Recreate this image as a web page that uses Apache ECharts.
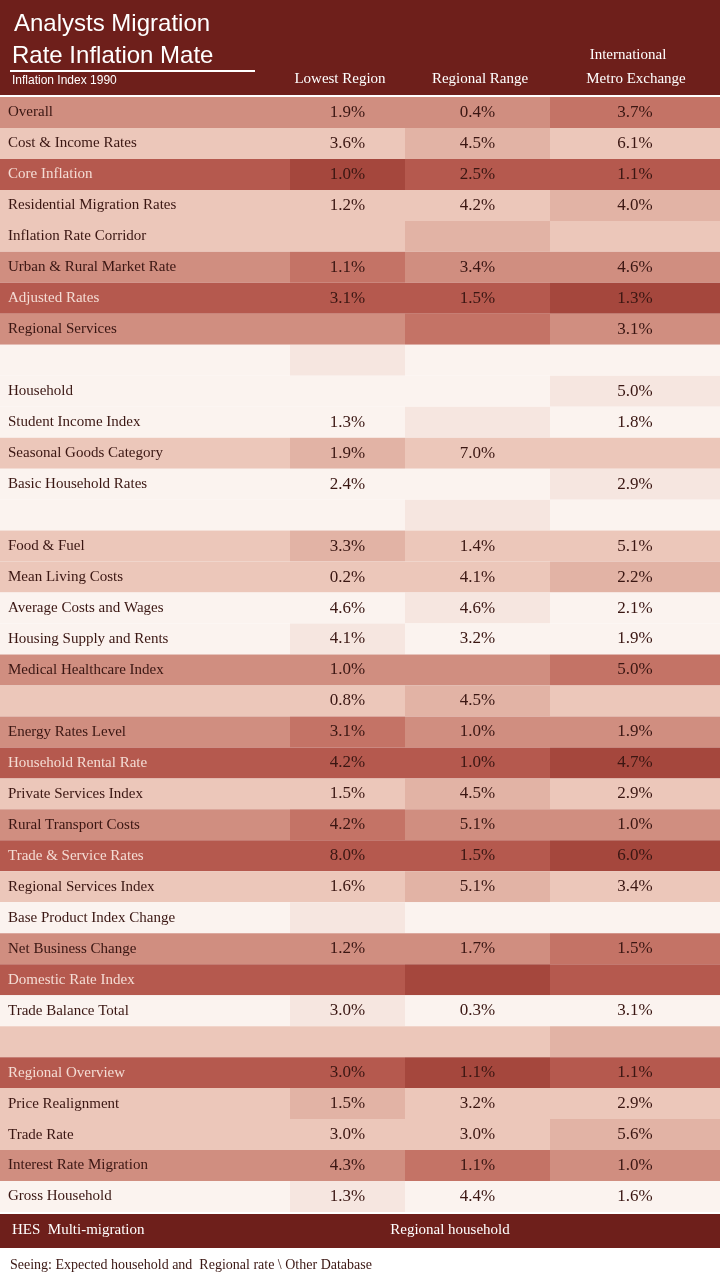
<!DOCTYPE html>
<html><head><meta charset="utf-8">
<script src="https://cdn.jsdelivr.net/npm/echarts@6/dist/echarts.min.js"></script>
<style>html,body{margin:0;padding:0;background:#fff}#c{width:720px;height:1280px}</style>
</head><body><div id="c"></div>
<script>
const columns = ["Category", "Lowest Region", "Regional Range", "Metro Exchange"];
const rowLabels = ["Overall","Cost & Income Rates","Core Inflation","Residential Migration Rates","Inflation Rate Corridor","Urban & Rural Market Rate","Adjusted Rates","Regional Services","","Household","Student Income Index","Seasonal Goods Category","Basic Household Rates","","Food & Fuel","Mean Living Costs","Average Costs and Wages","Housing Supply and Rents","Medical Healthcare Index","","Energy Rates Level","Household Rental Rate","Private Services Index","Rural Transport Costs","Trade & Service Rates","Regional Services Index","Base Product Index Change","Net Business Change","Domestic Rate Index","Trade Balance Total","","Regional Overview","Price Realignment","Trade Rate","Interest Rate Migration","Gross Household"];
const col1 = ["1.9%","3.6%","1.0%","1.2%","","1.1%","3.1%","","","","1.3%","1.9%","2.4%","","3.3%","0.2%","4.6%","4.1%","1.0%","0.8%","3.1%","4.2%","1.5%","4.2%","8.0%","1.6%","","1.2%","","3.0%","","3.0%","1.5%","3.0%","4.3%","1.3%"];
const col2 = ["0.4%","4.5%","2.5%","4.2%","","3.4%","1.5%","","","","","7.0%","","","1.4%","4.1%","4.6%","3.2%","","4.5%","1.0%","1.0%","4.5%","5.1%","1.5%","5.1%","","1.7%","","0.3%","","1.1%","3.2%","3.0%","1.1%","4.4%"];
const col3 = ["3.7%","6.1%","1.1%","4.0%","","4.6%","1.3%","3.1%","","5.0%","1.8%","","2.9%","","5.1%","2.2%","2.1%","1.9%","5.0%","","1.9%","4.7%","2.9%","1.0%","6.0%","3.4%","","1.5%","","3.1%","","1.1%","2.9%","5.6%","1.0%","1.6%"];
const level = [2,1,3,1,1,2,3,2,0,0,0,1,0,0,1,1,0,0,2,1,2,3,1,2,3,1,0,2,3,0,1,3,1,1,2,0];

const palette = ["#fbf3ef","#ecc7ba","#d08e80","#b5594e"];
const shade = ["#f6e6e0","#e2b3a5","#c47366","#a5473d"];
const data = [];
rowLabels.forEach((r, i) => {
  const vals = [r, col1[i], col2[i], col3[i]];
  vals.forEach((v, j) => {
    const lv = level[i];
    const c = (j === 0) ? palette[lv] : ((i + j) % 3 === 0 ? shade[lv] : palette[lv]);
    data.push([j, i, v, c, lv]);
  });
});

const chart = echarts.init(document.getElementById('c'));
chart.setOption({
  backgroundColor: '#fff',
  animation: false,
  grid: { left: 0, right: 0, top: 97, bottom: 68 },
  xAxis: { type: 'category', data: columns, show: false },
  yAxis: { type: 'category', data: rowLabels.map((r,i)=>i+''), inverse: true, show: false },
  series: [{
    type: 'custom',
    data: data,
    encode: { x: 0, y: 1 },
    renderItem: function (params, api) {
      const j = api.value(0);
      const p = api.coord([j, api.value(1)]);
      const s = api.size([1, 1]);
      const colW = [290, 115, 145, 170];
      const colX = [0, 290, 405, 550];
      const x = colX[j], w = colW[j];
      const d = data[params.dataIndex];
      const lv = d[4];
      const txtColor = (lv === 3 && j === 0) ? '#f4dcd4' : '#3a1612';
      return {
        type: 'group',
        children: [
          { type: 'rect', shape: { x: x, y: p[1] - s[1] / 2, width: w, height: s[1] }, style: { fill: d[3] } },
          { type: 'text', style: {
              text: d[2], x: j === 0 ? 8 : x + w / 2, y: p[1],
              align: j === 0 ? 'left' : 'center', verticalAlign: 'middle',
              fill: txtColor,
              font: (j === 0 ? '15px' : '17px') + ' "Liberation Serif", serif'
          } }
        ]
      };
    }
  }],
  graphic: [
    { type: 'rect', shape: { x: 0, y: 0, width: 720, height: 95 }, style: { fill: '#6e1f1b' } },
    { type: 'text', style: { text: 'Analysts Migration', x: 14, y: 12, fill: '#fff', font: '24px "Liberation Sans", sans-serif' } },
    { type: 'text', style: { text: 'Rate Inflation Mate', x: 12, y: 44, fill: '#fff', font: '24px "Liberation Sans", sans-serif' } },
    { type: 'rect', shape: { x: 10, y: 70, width: 245, height: 2 }, style: { fill: '#fff' } },
    { type: 'text', style: { text: 'Inflation Index 1990', x: 12, y: 75, fill: '#fff', font: '12px "Liberation Sans", sans-serif' } },
    { type: 'text', style: { text: 'Lowest Region', x: 340, y: 72, align: 'center', fill: '#fff', font: '15px "Liberation Serif", serif' } },
    { type: 'text', style: { text: 'Regional Range', x: 480, y: 72, align: 'center', fill: '#fff', font: '15px "Liberation Serif", serif' } },
    { type: 'text', style: { text: 'International', x: 628, y: 48, align: 'center', fill: '#fff', font: '15px "Liberation Serif", serif' } },
    { type: 'text', style: { text: 'Metro Exchange', x: 636, y: 72, align: 'center', fill: '#fff', font: '15px "Liberation Serif", serif' } },
    { type: 'rect', shape: { x: 0, y: 1214, width: 720, height: 34 }, style: { fill: '#6e1f1b' } },
    { type: 'text', style: { text: 'HES  Multi-migration', x: 12, y: 1223, fill: '#fff', font: '15px "Liberation Serif", serif' } },
    { type: 'text', style: { text: 'Regional household', x: 450, y: 1223, align: 'center', fill: '#fff', font: '15px "Liberation Serif", serif' } },
    { type: 'text', style: { text: 'Seeing: Expected household and  Regional rate \\ Other Database', x: 10, y: 1258, fill: '#3a1612', font: '14px "Liberation Serif", serif' } }
  ]
});
</script></body></html>
